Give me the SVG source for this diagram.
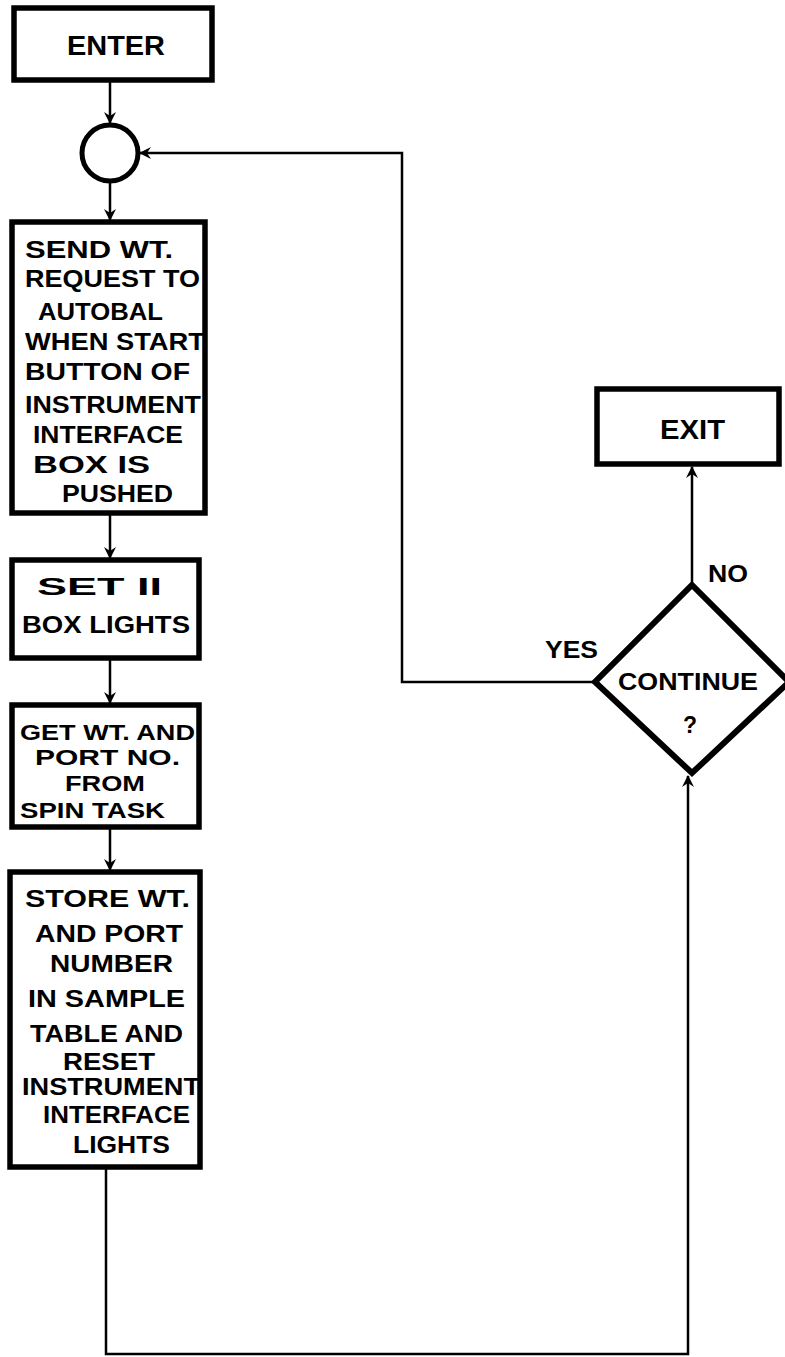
<svg xmlns="http://www.w3.org/2000/svg" width="785" height="1357" viewBox="0 0 785 1357">
<style>
.box{fill:#fff;stroke:#000;stroke-width:5.5}
.ln{fill:none;stroke:#000;stroke-width:2.5}
text{font-family:"Liberation Sans","DejaVu Sans",Arial,sans-serif;font-weight:bold;fill:#000;font-size:23px}
.big{font-size:27px}
.sm{font-size:22px}
</style>
<defs>
<marker id="ah" viewBox="0 0 12 12" refX="11" refY="6" markerWidth="12" markerHeight="12" markerUnits="userSpaceOnUse" orient="auto">
<path d="M0,0 L12,6 L0,12 L4,6 z" fill="#000"/>
</marker>
</defs>
<rect width="785" height="1357" fill="#fff"/>
<g id="connectors">
<line class="ln" x1="110" y1="80" x2="110" y2="123" marker-end="url(#ah)"/>
<line class="ln" x1="110" y1="182" x2="110" y2="220" marker-end="url(#ah)"/>
<line class="ln" x1="110" y1="513" x2="110" y2="558" marker-end="url(#ah)"/>
<line class="ln" x1="110" y1="658" x2="110" y2="703" marker-end="url(#ah)"/>
<line class="ln" x1="110" y1="827" x2="110" y2="870" marker-end="url(#ah)"/>
<path class="ln" d="M106,1167 V1354 H688 V776" marker-end="url(#ah)"/>
<line class="ln" x1="692" y1="585" x2="692" y2="467" marker-end="url(#ah)"/>
<path class="ln" d="M595,682 H402 V153 H140" marker-end="url(#ah)"/>
</g>
<g id="enter">
<rect class="box" x="14" y="8" width="198" height="72"/>
<text class="big" x="67" y="55" textLength="98" lengthAdjust="spacingAndGlyphs">ENTER</text>
</g>
<g id="junction">
<circle cx="110" cy="153" r="28" fill="#fff" stroke="#000" stroke-width="5"/>
</g>
<g id="send">
<rect class="box" x="12" y="222" width="193" height="291"/>
<text x="25" y="258" textLength="148" lengthAdjust="spacingAndGlyphs">SEND  WT.</text>
<text x="25" y="287" textLength="175" lengthAdjust="spacingAndGlyphs">REQUEST TO</text>
<text x="38" y="320" textLength="125" lengthAdjust="spacingAndGlyphs">AUTOBAL</text>
<text x="25" y="350" textLength="180" lengthAdjust="spacingAndGlyphs">WHEN START</text>
<text x="25" y="380" textLength="165" lengthAdjust="spacingAndGlyphs">BUTTON OF</text>
<text x="25" y="413" textLength="176" lengthAdjust="spacingAndGlyphs">INSTRUMENT</text>
<text x="33" y="443" textLength="150" lengthAdjust="spacingAndGlyphs">INTERFACE</text>
<text x="33" y="473" textLength="117" lengthAdjust="spacingAndGlyphs">BOX  IS</text>
<text x="62" y="502" textLength="111" lengthAdjust="spacingAndGlyphs">PUSHED</text>
</g>
<g id="setlights">
<rect class="box" x="12" y="560" width="187" height="98"/>
<text x="37" y="595" textLength="125" lengthAdjust="spacingAndGlyphs">SET   II</text>
<text x="22" y="633" textLength="168" lengthAdjust="spacingAndGlyphs">BOX LIGHTS</text>
</g>
<g id="getwt">
<rect class="box" x="12" y="705" width="187" height="122"/>
<text class="sm" x="20" y="740" textLength="175" lengthAdjust="spacingAndGlyphs">GET WT. AND</text>
<text class="sm" x="35" y="765" textLength="145" lengthAdjust="spacingAndGlyphs">PORT  NO.</text>
<text class="sm" x="65" y="791" textLength="80" lengthAdjust="spacingAndGlyphs">FROM</text>
<text class="sm" x="20" y="818" textLength="145" lengthAdjust="spacingAndGlyphs">SPIN TASK</text>
</g>
<g id="store">
<rect class="box" x="10" y="872" width="190" height="295"/>
<text x="25" y="907" textLength="165" lengthAdjust="spacingAndGlyphs">STORE  WT.</text>
<text x="35" y="942" textLength="148" lengthAdjust="spacingAndGlyphs">AND  PORT</text>
<text x="50" y="972" textLength="123" lengthAdjust="spacingAndGlyphs">NUMBER</text>
<text x="28" y="1007" textLength="157" lengthAdjust="spacingAndGlyphs">IN SAMPLE</text>
<text x="30" y="1042" textLength="153" lengthAdjust="spacingAndGlyphs">TABLE AND</text>
<text x="63" y="1070" textLength="92" lengthAdjust="spacingAndGlyphs">RESET</text>
<text x="22" y="1095" textLength="178" lengthAdjust="spacingAndGlyphs">INSTRUMENT</text>
<text x="43" y="1123" textLength="147" lengthAdjust="spacingAndGlyphs">INTERFACE</text>
<text x="73" y="1153" textLength="97" lengthAdjust="spacingAndGlyphs">LIGHTS</text>
</g>
<g id="exit">
<rect class="box" x="597" y="389" width="182" height="75"/>
<text class="big" x="660" y="439" textLength="65" lengthAdjust="spacingAndGlyphs">EXIT</text>
</g>
<g id="continue">
<polygon points="692,585 789,682 692,773 595,682" fill="#fff" stroke="#000" stroke-width="6" stroke-linejoin="miter"/>
<text x="618" y="690" textLength="140" lengthAdjust="spacingAndGlyphs">CONTINUE</text>
<text x="683" y="733">?</text>
</g>
<g id="labels">
<text x="545" y="658" textLength="53" lengthAdjust="spacingAndGlyphs">YES</text>
<text x="708" y="582" textLength="40" lengthAdjust="spacingAndGlyphs">NO</text>
</g>
</svg>
